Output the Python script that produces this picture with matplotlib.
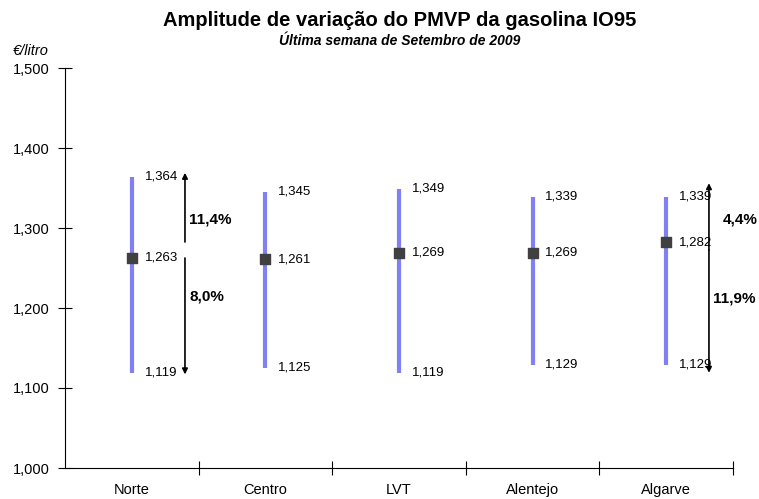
import matplotlib
matplotlib.use("Agg")
import matplotlib.pyplot as plt
import numpy as np

plt.rcParams['font.family'] = ['Liberation Sans', 'DejaVu Sans']

categories = ["Norte", "Centro", "LVT", "Alentejo", "Algarve"]
max_vals = [1.364, 1.345, 1.349, 1.339, 1.339]
avg_vals = [1.263, 1.261, 1.269, 1.269, 1.282]
min_vals = [1.119, 1.125, 1.119, 1.129, 1.129]
yticks = [1.0, 1.1, 1.2, 1.3, 1.4, 1.5]

# annotation arrows: (label, y_start, y_end, label_y)
norte_up = ("11,4%", 1.2825, 1.369, 1.31)
norte_down = ("8,0%", 1.2625, 1.117, 1.214)
alg_up = ("4,4%", 1.2725, 1.356, 1.31)
alg_down = ("11,9%", 1.2725, 1.119, 1.2125)

fig = plt.figure(figsize=(7.59, 4.99), dpi=100)
ax = fig.add_axes([65/759, 31/499, 668/759, 400/499])

x = np.arange(len(categories))
fmt = lambda v: f"{v:.3f}".replace(".", ",")

ax.vlines(x, min_vals, max_vals, color="#8080F2", lw=3, zorder=2)
ax.scatter(x, avg_vals, marker="s", s=55, color="#404040", zorder=3)

for xi, mx, av, mn in zip(x, max_vals, avg_vals, min_vals):
    for v in (mx, av, mn):
        ax.text(xi + 0.095, v, fmt(v), fontsize=9.5, va="center", ha="left")

def arrow(xp, y0, y1):
    ax.annotate("", xy=(xp, y1), xytext=(xp, y0),
                arrowprops=dict(arrowstyle="-|>", color="black", lw=1.2,
                                mutation_scale=8, shrinkA=0, shrinkB=0))

for (lab, y0, y1, ly), lx in ((norte_up, 0.43), (norte_down, 0.43)):
    arrow(0.398, y0, y1)
    ax.text(lx, ly, lab, fontsize=11, fontweight="bold", va="center", ha="left")
for (lab, y0, y1, ly), lx in ((alg_up, 4.425), (alg_down, 4.35)):
    arrow(4.32, y0, y1)
    ax.text(lx, ly, lab, fontsize=11, fontweight="bold", va="center", ha="left")

ax.set_xlim(-0.5, 4.5)
ax.set_ylim(1.0, 1.5)
ax.set_yticks(yticks)
ax.set_yticklabels([fmt(v) for v in yticks], fontsize=10.5)
ax.set_xticks([0.5, 1.5, 2.5, 3.5, 4.5])
ax.set_xticklabels([])
ax.set_xticks(x, minor=True)
ax.set_xticklabels(categories, minor=True, fontsize=10.5)
ax.tick_params(axis="x", which="major", direction="inout", length=10, width=0.8)
ax.tick_params(axis="x", which="minor", length=0, pad=11)
ax.tick_params(axis="y", direction="inout", length=10, width=0.8, pad=6)
for s in ("top", "right"):
    ax.spines[s].set_visible(False)
for s in ("left", "bottom"):
    ax.spines[s].set_linewidth(0.8)

fig.text(400/759, 1 - 20/499, "Amplitude de variação do PMVP da gasolina IO95",
         ha="center", va="center", fontsize=14.5, fontweight="bold")
fig.text(400/759, 1 - 41/499, "Última semana de Setembro de 2009",
         ha="center", va="center", fontsize=10, fontweight="bold", style="italic")
fig.text(13/759, 1 - 51/499, "€/litro", ha="left", va="center", fontsize=10.5, style="italic")

fig.savefig("out.png", dpi=100)
